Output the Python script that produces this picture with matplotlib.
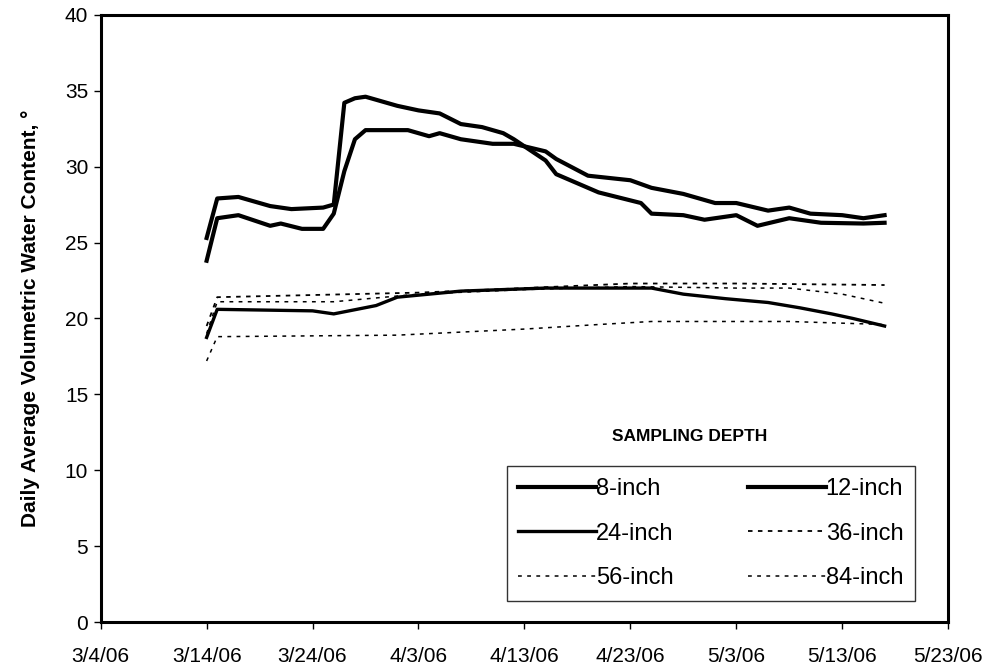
import pandas as pd
import matplotlib
matplotlib.use("Agg")
import matplotlib.pyplot as plt

plt.rcParams['font.family'] = ['Liberation Sans', 'DejaVu Sans']

# daily average volumetric water content
d8 = ['3/14/06', '3/15/06', '3/17/06', '3/20/06', '3/22/06', '3/25/06', '3/26/06', '3/27/06',
      '3/28/06', '3/29/06', '3/30/06', '4/1/06', '4/3/06', '4/5/06', '4/7/06', '4/9/06',
      '4/11/06', '4/12/06', '4/15/06', '4/16/06', '4/20/06', '4/24/06', '4/25/06', '4/28/06',
      '4/30/06', '5/3/06', '5/5/06', '5/8/06', '5/11/06', '5/15/06', '5/17/06']
v8 = [25.3, 27.9, 28.0, 27.4, 27.2, 27.3, 27.5, 34.2,
      34.5, 34.6, 34.4, 34.0, 33.7, 33.5, 32.8, 32.6,
      32.2, 31.8, 30.4, 29.5, 28.3, 27.6, 26.9, 26.8,
      26.5, 26.8, 26.1, 26.6, 26.3, 26.25, 26.3]

d12 = ['3/14/06', '3/15/06', '3/17/06', '3/20/06', '3/21/06', '3/23/06', '3/25/06', '3/26/06',
       '3/27/06', '3/28/06', '3/29/06', '4/2/06', '4/4/06', '4/5/06', '4/7/06', '4/10/06',
       '4/12/06', '4/15/06', '4/16/06', '4/19/06', '4/23/06', '4/25/06', '4/28/06', '5/1/06',
       '5/3/06', '5/6/06', '5/8/06', '5/10/06', '5/13/06', '5/15/06', '5/17/06']
v12 = [23.8, 26.6, 26.8, 26.1, 26.25, 25.9, 25.9, 26.9,
       29.7, 31.8, 32.4, 32.4, 32.0, 32.2, 31.8, 31.5,
       31.5, 31.0, 30.5, 29.4, 29.1, 28.6, 28.2, 27.6,
       27.6, 27.1, 27.3, 26.9, 26.8, 26.6, 26.8]

d24 = ['3/14/06', '3/15/06', '3/24/06', '3/26/06', '3/30/06', '4/1/06', '4/7/06', '4/15/06',
       '4/25/06', '4/28/06', '5/2/06', '5/6/06', '5/9/06', '5/12/06', '5/14/06', '5/17/06']
v24 = [18.75, 20.6, 20.5, 20.3, 20.85, 21.4, 21.8, 22.0,
       22.0, 21.6, 21.3, 21.05, 20.7, 20.3, 20.0, 19.5]

d36 = ['3/14/06', '3/15/06', '4/3/06', '4/13/06', '4/23/06', '5/3/06', '5/17/06']
v36 = [19.5, 21.4, 21.7, 22.0, 22.3, 22.3, 22.2]

d56 = ['3/14/06', '3/15/06', '3/26/06', '4/3/06', '4/13/06', '4/23/06', '5/3/06', '5/8/06',
       '5/13/06', '5/17/06']
v56 = [19.0, 21.1, 21.1, 21.6, 21.9, 22.1, 22.0, 22.0, 21.6, 21.0]

d84 = ['3/14/06', '3/15/06', '4/1/06', '4/7/06', '4/13/06', '4/20/06', '4/25/06', '5/8/06', '5/17/06']
v84 = [17.2, 18.8, 18.9, 19.1, 19.3, 19.6, 19.8, 19.8, 19.6]

tick_labels = ['3/4/06', '3/14/06', '3/24/06', '4/3/06', '4/13/06', '4/23/06', '5/3/06', '5/13/06', '5/23/06']

fig = plt.figure(figsize=(9.97, 6.69), dpi=100)
ax = fig.add_axes([0.101, 0.070, 0.850, 0.908])

dt = lambda s: pd.to_datetime(s, format='%m/%d/%y')

l8, = ax.plot(dt(d8), v8, color='black', lw=3.0, label='8-inch')
l12, = ax.plot(dt(d12), v12, color='black', lw=3.0, label='12-inch')
l24, = ax.plot(dt(d24), v24, color='black', lw=2.4, label='24-inch')
l36, = ax.plot(dt(d36), v36, color='black', lw=1.3, ls=(0, (2.5, 3)), label='36-inch')
l56, = ax.plot(dt(d56), v56, color='black', lw=1.1, ls=(0, (2.5, 3.5)), label='56-inch')
l84, = ax.plot(dt(d84), v84, color='black', lw=1.1, ls=(0, (2.5, 3.5)), label='84-inch')

ticks = dt(tick_labels)
ax.set_xlim(ticks[0], ticks[-1])
ax.set_xticks(ticks)
ax.set_xticklabels(tick_labels)
ax.set_ylim(0, 40)
ax.set_yticks(range(0, 41, 5))

ax.tick_params(axis='both', direction='out', length=5, width=1, labelsize=15)
ax.tick_params(axis='x', pad=13)
ax.tick_params(axis='y', pad=4)
for sp in ax.spines.values():
    sp.set_linewidth(2.2)

ax.set_ylabel('Daily Average Volumetric Water Content, °', fontsize=15, fontweight='bold', labelpad=18)

ax.text(0.695, 0.305, 'SAMPLING DEPTH', transform=ax.transAxes, ha='center', va='center',
        fontsize=12.5, fontweight='bold')

# matplotlib fills legend columns first, so order handles to read across rows
hs = [l8, l24, l56, l12, l36, l84]
leg = ax.legend(hs, [h.get_label() for h in hs], loc='lower left',
                bbox_to_anchor=(0.479, 0.035, 0.482, 0.219), mode='expand', borderaxespad=0,
                ncol=2, fontsize=17, handlelength=3.3, handletextpad=0.0, columnspacing=1.5,
                labelspacing=0.95, borderpad=0.5, fancybox=False, frameon=True)
leg.get_frame().set_edgecolor('black')
leg.get_frame().set_linewidth(1.0)

fig.savefig('out.png', dpi=100)
